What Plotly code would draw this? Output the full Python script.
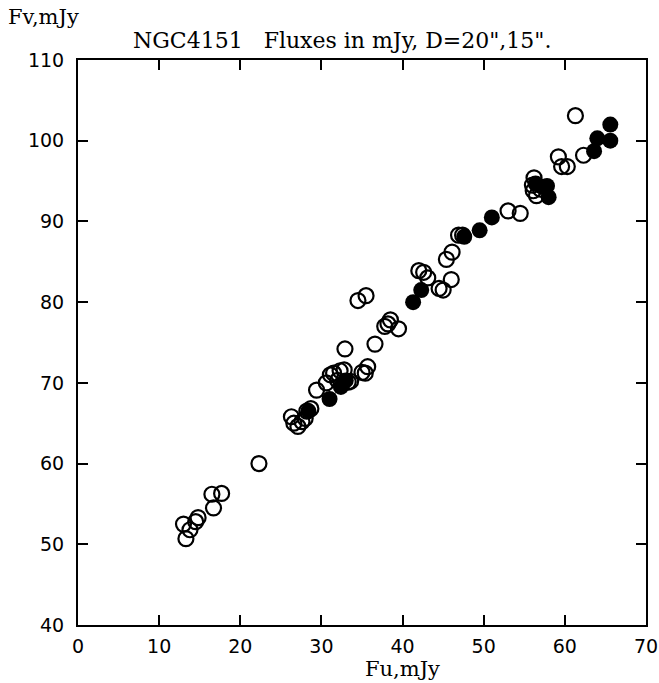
import plotly.graph_objects as go

# Open circles (Fu, Fv)
open_fu = [13.0, 13.3, 13.8, 14.5, 14.8, 16.5, 17.7, 16.7, 22.3,
           26.3, 26.6, 27.1, 27.6, 28.0, 28.2, 28.7,
           29.4, 30.6, 31.1, 31.5, 32.0, 32.3, 32.8, 33.3, 32.9, 33.6,
           34.5, 35.5, 35.0, 35.4, 35.7, 36.6,
           37.8, 38.2, 38.5, 39.5,
           42.0, 42.6, 43.1, 44.5, 45.0, 46.0, 45.4, 46.1, 46.9, 47.4,
           53.0, 54.5, 56.2, 56.0, 56.1, 56.5, 57.0,
           59.2, 59.6, 60.3, 61.3, 62.3]
open_fv = [52.5, 50.7, 51.8, 52.8, 53.3, 56.2, 56.3, 54.5, 60.0,
           65.8, 65.0, 64.6, 65.2, 65.6, 66.5, 66.8,
           69.1, 70.0, 71.0, 71.2, 70.3, 71.5, 71.6, 70.1, 74.2, 70.2,
           80.2, 80.8, 71.3, 71.2, 72.0, 74.8,
           77.0, 77.3, 77.8, 76.7,
           83.9, 83.7, 83.0, 81.7, 81.5, 82.8, 85.3, 86.2, 88.3, 88.3,
           91.3, 91.0, 95.4, 94.5, 93.8, 93.2, 94.0,
           98.0, 96.8, 96.8, 103.1, 98.2]

# Filled circles (Fu, Fv)
fill_fu = [28.4, 31.0, 32.4, 32.7, 33.0, 41.3, 42.3, 47.6, 49.5, 51.0,
           56.4, 57.2, 57.8, 58.0, 63.6, 64.0, 65.6, 65.6]
fill_fv = [66.5, 68.0, 69.5, 70.0, 70.3, 80.0, 81.5, 88.1, 88.9, 90.5,
           94.7, 94.3, 94.4, 93.0, 98.7, 100.3, 102.0, 100.0]

x_ticks = [0, 10, 20, 30, 40, 50, 60, 70]
y_ticks = [40, 50, 60, 70, 80, 90, 100, 110]

title_text = "NGC4151   Fluxes in mJy, D=20\",15\"."
x_label = "Fu,mJy"
y_label = "Fv,mJy"

serif = "DejaVu Serif"
sans = "DejaVu Sans"

fig = go.Figure()
fig.add_trace(go.Scatter(
    x=open_fu, y=open_fv, mode="markers",
    marker=dict(symbol="circle-open", size=15, color="black",
                line=dict(width=2.2, color="black")),
    showlegend=False))
fig.add_trace(go.Scatter(
    x=fill_fu, y=fill_fv, mode="markers",
    marker=dict(symbol="circle", size=16, color="black",
                line=dict(width=0)),
    showlegend=False))

axis_common = dict(
    showgrid=False, zeroline=False, showline=True, linewidth=2,
    linecolor="black", mirror="ticks", ticks="inside", ticklen=10,
    tickwidth=2, tickcolor="black", ticklabeloverflow="allow",
    tickfont=dict(family=sans, size=19, color="black"),
)

fig.update_xaxes(range=[0, 70], tickvals=x_ticks, ticktext=[str(v) for v in x_ticks],
                 ticklabelstandoff=3, **axis_common)
fig.update_yaxes(range=[40, 110], tickvals=y_ticks, ticktext=[str(v) for v in y_ticks],
                 ticklabelstandoff=8, **axis_common)

fig.add_annotation(text=title_text, xref="paper", yref="paper",
                   x=0.4655, y=1.0, yshift=20, yanchor="middle", showarrow=False,
                   font=dict(family=serif, size=22, color="black"))
fig.add_annotation(text=y_label, xref="paper", yref="paper",
                   x=0, xshift=-72, y=1.0, yshift=43, xanchor="left", yanchor="middle",
                   showarrow=False,
                   font=dict(family=serif, size=21, color="black"))
fig.add_annotation(text=x_label, xref="paper", yref="paper",
                   x=40 / 70, y=0, yshift=-44, yanchor="middle", showarrow=False,
                   font=dict(family=serif, size=21, color="black"))

fig.update_layout(
    width=659, height=683,
    margin=dict(l=78, r=13, t=60, b=58, autoexpand=False),
    paper_bgcolor="white", plot_bgcolor="white",
)

fig.write_html("out.html")
